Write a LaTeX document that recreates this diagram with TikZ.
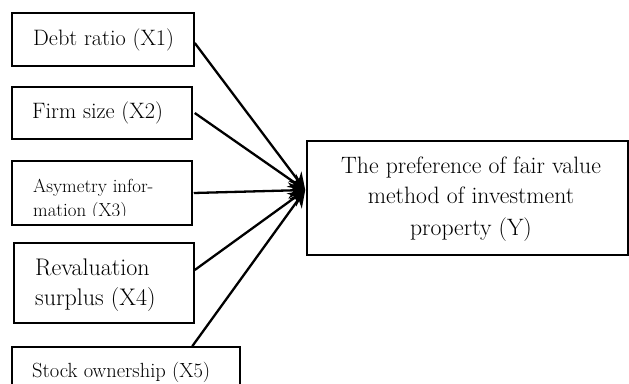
\documentclass[tikz,border=0pt]{standalone}
\usetikzlibrary{arrows.meta,calc}
\begin{document}
\begin{tikzpicture}[x=1pt,y=-1pt,
  box/.style={draw,line width=1.5pt,inner sep=0pt},
  arr/.style={line width=2.3pt,-{Stealth[length=17pt,width=16pt]}},
  lbl/.style={inner sep=0pt,anchor=base west},
  clbl/.style={inner sep=0pt,anchor=base},
  big/.style={font=\fontsize{22.3}{30}\selectfont},
  bigger/.style={font=\fontsize{24}{30}\selectfont},
  ybig/.style={font=\fontsize{23.7}{30}\selectfont},
  small/.style={font=\fontsize{18.9}{24}\selectfont},
  mid/.style={font=\fontsize{20.5}{24}\selectfont}]
\useasboundingbox (0,0) rectangle (629,383);
% boxes
\node[box,minimum width=182pt,minimum height=53pt] (x1) at (103,39.5) {};
\node[box,minimum width=180pt,minimum height=52pt] (x2) at (102,113) {};
\node[box,minimum width=180pt,minimum height=64pt] (x3) at (102,193) {};
\node[box,minimum width=180pt,minimum height=80pt] (x4) at (104,283) {};
\node[box,minimum width=228pt,minimum height=50pt] (x5) at (126,372) {};
\node[box,minimum width=321pt,minimum height=114pt] (Y) at (467.5,198) {};
% texts
\node[lbl,big] (t1) at (33,45) {Debt ratio (X1)};
\node[lbl,big] (t2) at (32,118) {Firm size (X2)};
\node[lbl,small] (t3a) at (33,192) {Asymetry infor-};
\begin{scope}
  \clip (14,150) rectangle (190,215);
  \node[lbl,small] (t3b) at (33,216) {mation (X3)};
\end{scope}
\node[lbl,bigger] (t4a) at (35,275) {Revaluation};
\node[lbl,bigger] (t4b) at (35,305) {surplus (X4)};
\node[lbl,mid] (t5) at (32,377) {Stock ownership (X5)};
\node[clbl,ybig] (ya) at (471,173.5) {The preference of fair value};
\node[clbl,ybig] (yb) at (471,203.5) {method of investment};
\node[clbl,ybig] (yc) at (471,235) {property (Y)};
% connectors
\coordinate (tip) at ($(Y.west)+(-1,-8)$);
\draw[arr] ($(x1.east)+(0,3.5)$) -- (tip);
\draw[arr] ($(x2.east)+(2,0)$) -- (tip);
\draw[arr] ($(x3.east)+(1,0)$) -- (tip);
\draw[arr] ($(x4.east)+(0,-13)$) -- (tip);
\draw[arr] ($(x5.north west)+(181,0)$) -- (tip);
\end{tikzpicture}
\end{document}
